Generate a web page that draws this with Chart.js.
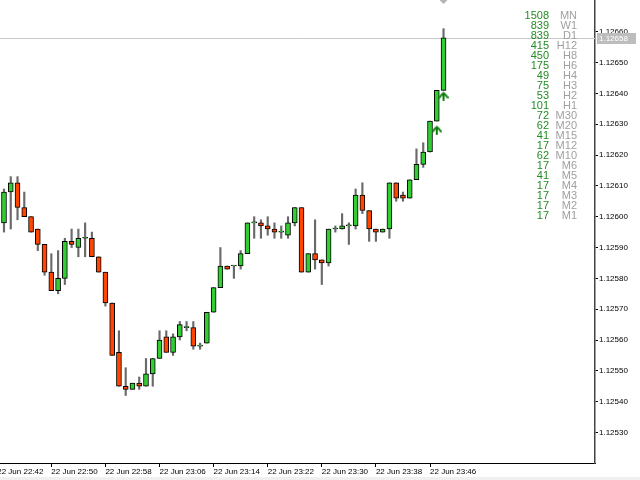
<!DOCTYPE html>
<html>
<head>
<meta charset="utf-8">
<script src="https://cdn.jsdelivr.net/npm/chart.js@4.4.0/dist/chart.umd.min.js"></script>
<style>
  html, body { margin: 0; padding: 0; background: #f0f0f0; }
  #wrap { width: 640px; height: 477px; background: #fff; }
</style>
</head>
<body>
<div id="wrap"><canvas id="chart" width="640" height="477"></canvas></div>
<script>
// one-minute candles, 22 Jun
const times = [
  '22:43', '22:44', '22:45', '22:46', '22:47', '22:48', '22:49', '22:50', '22:51', '22:52',
  '22:53', '22:54', '22:55', '22:56', '22:57', '22:58', '22:59', '23:00', '23:01', '23:02',
  '23:03', '23:04', '23:05', '23:06', '23:07', '23:08', '23:09', '23:10', '23:11', '23:12',
  '23:13', '23:14', '23:15', '23:16', '23:17', '23:18', '23:19', '23:20', '23:21', '23:22',
  '23:23', '23:24', '23:25', '23:26', '23:27', '23:28', '23:29', '23:30', '23:31', '23:32',
  '23:33', '23:34', '23:35', '23:36', '23:37', '23:38', '23:39', '23:40', '23:41', '23:42',
  '23:43', '23:44', '23:45', '23:46', '23:47', '23:48'
];
const opens = [
  1.12598, 1.12608, 1.12611, 1.12603, 1.12600, 1.12596, 1.12591, 1.12582, 1.12576, 1.12580,
  1.12592, 1.12590, 1.12593, 1.12593, 1.12587, 1.12582, 1.12572, 1.12556, 1.12545, 1.12544,
  1.12546, 1.12545, 1.12549, 1.12554, 1.12561, 1.12556, 1.12561, 1.12564, 1.12564, 1.12558,
  1.12559, 1.12569, 1.12577, 1.12584, 1.12584, 1.12584, 1.12588, 1.12598, 1.12598, 1.12597,
  1.12596, 1.12595, 1.12594, 1.12598, 1.12603, 1.12582, 1.12588, 1.12586, 1.12585, 1.12596,
  1.12596, 1.12597, 1.12597, 1.12607, 1.12602, 1.12596, 1.12595, 1.12596, 1.12611, 1.12607,
  1.12606, 1.12612, 1.12617, 1.12621, 1.12631, 1.12641
];
const highs = [
  1.12609, 1.12613, 1.12613, 1.12608, 1.12600, 1.12596, 1.12591, 1.12588, 1.12589, 1.12593,
  1.12596, 1.12596, 1.12598, 1.12595, 1.12587, 1.12582, 1.12572, 1.12563, 1.12551, 1.12546,
  1.12548, 1.12554, 1.12554, 1.12563, 1.12563, 1.12562, 1.12566, 1.12566, 1.12566, 1.12559,
  1.12569, 1.12577, 1.12590, 1.12584, 1.12584, 1.12589, 1.12598, 1.12600, 1.12599, 1.12600,
  1.12598, 1.12597, 1.12600, 1.12603, 1.12603, 1.12588, 1.12599, 1.12586, 1.12596, 1.12597,
  1.12601, 1.12598, 1.12609, 1.12611, 1.12602, 1.12596, 1.12596, 1.12611, 1.12611, 1.12608,
  1.12612, 1.12622, 1.12624, 1.12631, 1.12641, 1.12661
];
const lows = [
  1.12595, 1.12596, 1.12599, 1.12600, 1.12595, 1.12589, 1.12581, 1.12576, 1.12575, 1.12578,
  1.12590, 1.12587, 1.12587, 1.12587, 1.12582, 1.12571, 1.12555, 1.12545, 1.12542, 1.12544,
  1.12544, 1.12545, 1.12545, 1.12554, 1.12556, 1.12555, 1.12560, 1.12563, 1.12557, 1.12557,
  1.12559, 1.12569, 1.12577, 1.12583, 1.12580, 1.12583, 1.12588, 1.12593, 1.12593, 1.12594,
  1.12593, 1.12593, 1.12593, 1.12597, 1.12582, 1.12582, 1.12583, 1.12578, 1.12584, 1.12595,
  1.12596, 1.12591, 1.12596, 1.12601, 1.12592, 1.12592, 1.12595, 1.12593, 1.12605, 1.12605,
  1.12606, 1.12612, 1.12616, 1.12621, 1.12631, 1.12641
];
const closes = [
  1.12608, 1.12611, 1.12603, 1.12600, 1.12595, 1.12591, 1.12582, 1.12576, 1.12580, 1.12592,
  1.12591, 1.12593, 1.12593, 1.12587, 1.12582, 1.12572, 1.12555, 1.12545, 1.12544, 1.12546,
  1.12545, 1.12549, 1.12554, 1.12560, 1.12556, 1.12561, 1.12565, 1.12564, 1.12558, 1.12558,
  1.12569, 1.12577, 1.12584, 1.12583, 1.12584, 1.12588, 1.12598, 1.12598, 1.12597, 1.12596,
  1.12595, 1.12595, 1.12598, 1.12603, 1.12582, 1.12588, 1.12586, 1.12585, 1.12596, 1.12596,
  1.12597, 1.12597, 1.12607, 1.12602, 1.12596, 1.12595, 1.12596, 1.12611, 1.12606, 1.12606,
  1.12612, 1.12617, 1.12621, 1.12631, 1.12641, 1.12658
];

// signal arrows under the last two bars
const arrowTimes = ['23:47', '23:48'];
const arrowPrices = [1.12628, 1.12639];

const bidPrice = 1.12658;

// axis ticks
const yTickValues = [
  1.12530, 1.12540, 1.12550, 1.12560, 1.12570, 1.12580, 1.12590,
  1.12600, 1.12610, 1.12620, 1.12630, 1.12640, 1.12650, 1.12660
];
const xTickTimes = ['22:42', '22:50', '22:58', '23:06', '23:14', '23:22', '23:30', '23:38', '23:46'];
const xTickLabels = [
  '22 Jun 22:42', '22 Jun 22:50', '22 Jun 22:58', '22 Jun 23:06', '22 Jun 23:14',
  '22 Jun 23:22', '22 Jun 23:30', '22 Jun 23:38', '22 Jun 23:46'
];

// bars count panel
const tfNames = ['MN', 'W1', 'D1', 'H12', 'H8', 'H6', 'H4', 'H3', 'H2', 'H1', 'M30',
  'M20', 'M15', 'M12', 'M10', 'M6', 'M5', 'M4', 'M3', 'M2', 'M1'];
const tfCounts = [1508, 839, 839, 415, 450, 175, 49, 75, 53, 101, 72,
  62, 41, 17, 62, 17, 41, 17, 17, 17, 17];

const toMin = (t) => {
  const [h, m] = t.split(':').map(Number);
  return h * 60 + m;
};

const upColor = '#32cd32';
const downColor = '#ff4500';

const wickData = times.map((t, i) => ({ x: toMin(t), y: [lows[i], highs[i]] }));
const bodyData = times.map((t, i) => ({ x: toMin(t), y: [opens[i], closes[i]] }));
const bodyColors = times.map((t, i) => (closes[i] >= opens[i] ? upColor : downColor));
const arrowData = arrowTimes.map((t, i) => ({ x: toMin(t), y: arrowPrices[i] }));

// green up arrow glyph
const arrowIcon = document.createElement('canvas');
arrowIcon.width = 10;
arrowIcon.height = 10;
(() => {
  const c = arrowIcon.getContext('2d');
  c.strokeStyle = '#0a7d0a';
  c.lineWidth = 2;
  c.lineCap = 'round';
  c.lineJoin = 'round';
  c.beginPath();
  c.moveTo(5, 2);
  c.lineTo(5, 9);
  c.moveTo(1, 6);
  c.quadraticCurveTo(3, 3, 5, 1.5);
  c.quadraticCurveTo(7, 3, 9, 6);
  c.stroke();
})();

const overlay = {
  id: 'overlay',
  beforeDatasetsDraw(chart) {
    const { ctx, chartArea, scales } = chart;
    const py = Math.round(scales.y.getPixelForValue(bidPrice)) + 0.5;
    ctx.save();
    ctx.strokeStyle = '#c8c8c8';
    ctx.lineWidth = 1;
    ctx.beginPath();
    ctx.moveTo(chartArea.left, py);
    ctx.lineTo(chartArea.right, py);
    ctx.stroke();
    ctx.restore();
  },
  afterDraw(chart) {
    const { ctx, chartArea, scales } = chart;
    ctx.save();

    // bid price label on the axis
    const py = Math.round(scales.y.getPixelForValue(bidPrice));
    ctx.fillStyle = '#bdbdbd';
    ctx.fillRect(chartArea.right + 2, py - 5, 39, 11);
    ctx.fillStyle = '#ffffff';
    ctx.font = '8px "Liberation Sans"';
    ctx.textBaseline = 'middle';
    ctx.textAlign = 'left';
    ctx.fillText(bidPrice.toFixed(5), chartArea.right + 4, py + 0.5);

    // shift marker above the last bar
    const px = scales.x.getPixelForValue(toMin(times[times.length - 1]));
    ctx.fillStyle = '#b4b4b4';
    ctx.beginPath();
    ctx.moveTo(px - 4, 0);
    ctx.lineTo(px + 4, 0);
    ctx.lineTo(px, 4);
    ctx.closePath();
    ctx.fill();

    // bars per timeframe
    ctx.font = '11px "Liberation Sans"';
    ctx.textAlign = 'right';
    tfNames.forEach((name, i) => {
      const ty = 16 + i * 10;
      ctx.fillStyle = '#238c23';
      ctx.fillText(String(tfCounts[i]), 549, ty);
      ctx.fillStyle = '#a0a0a0';
      ctx.fillText(name, 577, ty);
    });
    ctx.restore();
  }
};

Chart.defaults.font.family = '"Liberation Sans", Arial, sans-serif';

new Chart(document.getElementById('chart').getContext('2d'), {
  type: 'bar',
  data: {
    datasets: [
      {
        label: 'wick',
        data: wickData,
        backgroundColor: '#6a6a6a',
        borderWidth: 0,
        barThickness: 1.5,
        grouped: false,
        order: 3,
      },
      {
        label: 'body',
        data: bodyData,
        backgroundColor: bodyColors,
        borderColor: '#000000',
        borderWidth: 1,
        borderSkipped: false,
        barThickness: 5,
        minBarLength: 1,
        grouped: false,
        order: 2,
      },
      {
        type: 'line',
        label: 'signal',
        data: arrowData,
        showLine: false,
        pointStyle: arrowIcon,
        order: 1,
      },
    ],
  },
  options: {
    responsive: false,
    maintainAspectRatio: false,
    animation: false,
    layout: { padding: 0, autoPadding: false },
    plugins: {
      legend: { display: false },
      tooltip: { enabled: false },
    },
    scales: {
      x: {
        type: 'linear',
        min: 1362.41,
        max: 1450.4,
        offset: false,
        afterBuildTicks: (scale) => {
          scale.ticks = xTickTimes.map((t) => ({ value: toMin(t) }));
        },
        afterFit: (scale) => {
          scale.height = 14;
          scale.paddingLeft = 0;
          scale.paddingRight = 0;
        },
        grid: {
          offset: false,
          drawOnChartArea: false,
          tickLength: 4,
          color: '#000',
        },
        border: { color: '#000', width: 1 },
        ticks: {
          align: 'start',
          autoSkip: false,
          maxRotation: 0,
          padding: 0,
          color: '#000',
          font: { size: 8 },
          callback: (value, index) => xTickLabels[index],
        },
      },
      y: {
        type: 'linear',
        position: 'right',
        min: 1.125201,
        max: 1.126703,
        afterBuildTicks: (scale) => {
          scale.ticks = yTickValues.map((v) => ({ value: v }));
        },
        afterFit: (scale) => {
          scale.width = 45;
          scale.paddingTop = 0;
          scale.paddingBottom = 0;
        },
        grid: {
          drawOnChartArea: false,
          tickLength: 3,
          color: '#000',
        },
        border: { color: '#444', width: 1.5 },
        ticks: {
          padding: 1,
          color: '#000',
          font: { size: 8 },
          callback: (value) => Number(value).toFixed(5),
        },
      },
    },
  },
  plugins: [overlay],
});
</script>
</body>
</html>
